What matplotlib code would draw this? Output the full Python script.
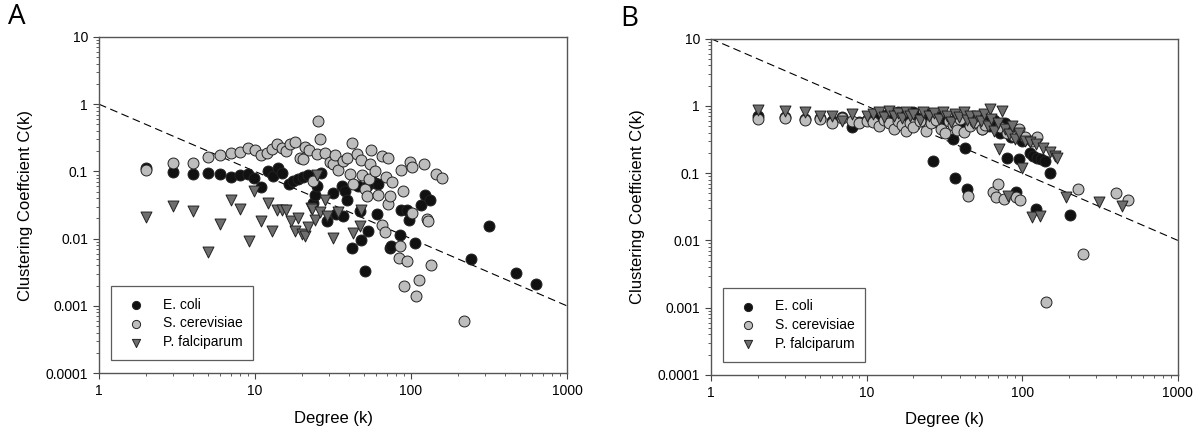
#! usr/bin/env python3

import matplotlib.pyplot as plt
from matplotlib.ticker import FixedLocator, LogLocator, NullFormatter

plt.rcParams['font.family'] = ['Liberation Sans', 'DejaVu Sans']

# ---- Panel A data (degree k, clustering C) ----
a_ecoli_k = [2, 3, 4, 5, 6, 7, 8, 9, 9.9, 11, 12.1, 13.1, 14.1, 15, 16.4, 17.6,
             18.9, 20.4, 21.9, 23.6, 24.2, 24.9, 26.6, 28.8, 31.7, 32.9, 35.9,
             36.7, 37.7, 38.6, 41.6, 45.8, 47, 48.1, 50.7, 51.9, 53.1, 55.6,
             58.8, 60.1, 61.6, 73.5, 74, 85.1, 86.6, 93.8, 97.5, 106.6, 116.7,
             122.6, 133, 241, 317, 471, 633]
a_ecoli_c = [0.113, 0.098, 0.093, 0.096, 0.093, 0.083, 0.087, 0.093, 0.081,
             0.059, 0.101, 0.085, 0.113, 0.096, 0.064, 0.072, 0.078, 0.083,
             0.087, 0.034, 0.044, 0.060, 0.096, 0.018, 0.048, 0.023, 0.060,
             0.022, 0.051, 0.038, 0.0073, 0.060, 0.026, 0.0097, 0.0033, 0.060,
             0.0128, 0.076, 0.068, 0.023, 0.064, 0.0073, 0.0077, 0.0115, 0.027,
             0.027, 0.019, 0.0086, 0.032, 0.045, 0.038, 0.0049, 0.0156, 0.0031,
             0.0021]

a_yeast_k = [2, 3, 4, 5, 6, 7, 8, 9, 10, 11, 11.9, 12.9, 13.9, 14.9, 15.9, 16.7,
             18, 19.4, 20.4, 20.9, 22.2, 23.6, 24.9, 25.5, 26.1, 28.1, 30.3,
             31.7, 32.6, 34.2, 36.5, 38.6, 40.6, 41.6, 42.7, 44.8, 47.7, 48.7,
             50.7, 51.9, 54.1, 54.6, 55.2, 58.8, 61.8, 64.9, 64.9, 68.2, 68.9,
             70.9, 71.3, 73.5, 76, 84.2, 85.1, 85.9, 89.2, 90.6, 94.4, 98.6, 101,
             101.7, 108, 112.8, 121, 126, 129, 134, 145, 157, 218]
a_yeast_c = [0.105, 0.132, 0.134, 0.166, 0.173, 0.186, 0.197, 0.223, 0.206,
             0.173, 0.19, 0.218, 0.253, 0.226, 0.201, 0.253, 0.27, 0.16, 0.151,
             0.233, 0.207, 0.072, 0.18, 0.56, 0.30, 0.186, 0.138, 0.127, 0.173,
             0.105, 0.142, 0.16, 0.093, 0.262, 0.064, 0.18, 0.146, 0.087, 0.054,
             0.043, 0.076, 0.127, 0.208, 0.101, 0.044, 0.169, 0.0157, 0.0124,
             0.083, 0.033, 0.16, 0.043, 0.069, 0.0052, 0.0079, 0.104, 0.051,
             0.0020, 0.0046, 0.138, 0.024, 0.117, 0.0014, 0.0024, 0.127, 0.0197,
             0.018, 0.0040, 0.093, 0.081, 0.0006]

a_plas_k = [2, 3, 4, 5, 6, 7, 8, 9.1, 9.9, 11, 12.1, 12.9, 13.9, 14.8, 15.9,
            16.9, 18, 18.9, 19.9, 20.9, 21.9, 22.9, 23.1, 24.2, 24.9, 26.1, 28.1,
            29, 31.7, 34.2, 42.7, 47.3, 48.1]
a_plas_c = [0.0208, 0.031, 0.026, 0.0063, 0.0166, 0.037, 0.028, 0.0093, 0.052,
            0.0185, 0.034, 0.0128, 0.0265, 0.027, 0.0265, 0.018, 0.0128, 0.0204,
            0.0119, 0.0108, 0.015, 0.029, 0.028, 0.0188, 0.088, 0.025, 0.038,
            0.022, 0.0104, 0.025, 0.0121, 0.0152, 0.027]

# ---- Panel B data ----
b_ecoli_k = [2, 3, 4, 5, 6, 7, 8, 9, 10, 11, 12, 13, 14, 15, 16, 17, 18, 19,
             20, 21, 22, 24, 26.8, 27, 29, 31, 33, 35.8, 37, 38, 40, 43, 44, 46,
             48, 52, 55, 58, 62, 66, 72, 78, 79.6, 85, 91.6, 94.8, 100, 112,
             118, 123, 125, 132, 140, 150, 204]
b_ecoli_c = [0.71, 0.68, 0.64, 0.66, 0.6, 0.68, 0.49, 0.57, 0.62, 0.7, 0.75,
             0.72, 0.78, 0.68, 0.8, 0.62, 0.73, 0.55, 0.82, 0.66, 0.6, 0.76,
             0.15, 0.7, 0.56, 0.74, 0.62, 0.32, 0.084, 0.68, 0.5, 0.24, 0.058,
             0.65, 0.55, 0.7, 0.45, 0.6, 0.5, 0.62, 0.4, 0.55, 0.17, 0.35,
             0.052, 0.16, 0.3, 0.2, 0.18, 0.029, 0.17, 0.16, 0.15, 0.1, 0.0235]

b_yeast_k = [2, 3, 4, 5, 6, 7, 8, 9, 10, 11, 12, 13, 14, 15, 16, 17, 18, 19,
             20, 22, 24, 26, 28, 30, 32, 34, 36, 38, 40, 42, 45, 46, 50, 55,
             58, 64.6, 68, 70, 72, 76, 80, 88, 91.6, 95, 97, 105, 115, 125, 142,
             230, 247, 400, 480]
b_yeast_c = [0.65, 0.67, 0.62, 0.64, 0.55, 0.67, 0.6, 0.55, 0.6, 0.58, 0.5,
             0.62, 0.55, 0.45, 0.6, 0.52, 0.43, 0.55, 0.48, 0.6, 0.42, 0.55,
             0.62, 0.46, 0.4, 0.6, 0.52, 0.44, 0.65, 0.41, 0.045, 0.5, 0.58,
             0.45, 0.52, 0.052, 0.044, 0.07, 0.48, 0.041, 0.4, 0.36, 0.044,
             0.45, 0.040, 0.35, 0.3, 0.35, 0.0012, 0.058, 0.0062, 0.05, 0.04]

b_plas_k = [2, 3, 4, 5, 6, 7, 8, 10, 11, 12, 13, 14, 15, 16, 17, 18, 19, 20,
            22, 23, 25, 27, 29, 31, 33, 35, 37, 39, 42, 44, 46, 48, 51, 54, 57,
            60, 62, 63, 66, 70, 71, 74, 78, 80.6, 82, 86, 90, 95, 99, 105, 112,
            115, 123, 130, 137, 150, 163, 168, 190, 313, 440]
b_plas_c = [0.86, 0.84, 0.82, 0.71, 0.71, 0.60, 0.77, 0.71, 0.75, 0.8, 0.68,
            0.85, 0.72, 0.78, 0.66, 0.8, 0.7, 0.75, 0.62, 0.82, 0.7, 0.78, 0.65,
            0.8, 0.72, 0.58, 0.75, 0.68, 0.8, 0.62, 0.72, 0.55, 0.7, 0.6, 0.75,
            0.5, 0.9, 0.65, 0.42, 0.55, 0.23, 0.85, 0.45, 0.045, 0.38, 0.5,
            0.32, 0.4, 0.12, 0.3, 0.29, 0.022, 0.27, 0.023, 0.24, 0.21, 0.18,
            0.17, 0.044, 0.037, 0.032]

# reference lines C ~ 1/k
line_k = [1, 1000]
line_a = [1, 0.001]
line_b = [10, 0.01]

species = ["E. coli", "S. cerevisiae", "P. falciparum"]
fills = ["#111111", "#bdbdbd", "#6e6e6e"]
shapes = ["o", "o", "v"]

fig = plt.figure(figsize=(12, 4.4), dpi=100)
ax_a = fig.add_axes([0.0825, 0.152, 0.39, 0.764])
ax_b = fig.add_axes([0.5925, 0.148, 0.389, 0.764])

panels = [
    (ax_a, [(a_ecoli_k, a_ecoli_c), (a_yeast_k, a_yeast_c), (a_plas_k, a_plas_c)],
     line_a, "Clustering Coeffcient C(k)", "A"),
    (ax_b, [(b_ecoli_k, b_ecoli_c), (b_yeast_k, b_yeast_c), (b_plas_k, b_plas_c)],
     line_b, "Clustering Coefficient C(k)", "B"),
]

for ax, series, fit, ylab, letter in panels:
    ax.plot(line_k, fit, color="black", lw=0.8, ls=(0, (7, 4)), zorder=1)
    for (k, c), name, fc, mk in zip(series, species, fills, shapes):
        ax.scatter(k, c, s=62, marker=mk, facecolor=fc, edgecolor="#222222",
                   linewidth=0.7, label=name, zorder=3)
    ax.set_xscale("log")
    ax.set_yscale("log")
    ax.set_xlim(1, 1000)
    ax.set_ylim(0.0001, 10)

    ax.xaxis.set_major_locator(FixedLocator([1, 10, 100, 1000]))
    ax.set_xticklabels(["1", "10", "100", "1000"])
    ax.yaxis.set_major_locator(FixedLocator([0.0001, 0.001, 0.01, 0.1, 1, 10]))
    ax.set_yticklabels(["0.0001", "0.001", "0.01", "0.1", "1", "10"])
    ax.xaxis.set_minor_locator(LogLocator(base=10, subs=range(2, 10)))
    ax.yaxis.set_minor_locator(LogLocator(base=10, subs=range(2, 10)))
    ax.xaxis.set_minor_formatter(NullFormatter())
    ax.yaxis.set_minor_formatter(NullFormatter())
    ax.tick_params(which="major", length=4, width=0.8, color="#444444",
                   labelsize=10, pad=4)
    ax.tick_params(which="minor", length=2.5, width=0.6, color="#444444")
    for sp in ax.spines.values():
        sp.set_color("#555555")
        sp.set_linewidth(1.0)

    ax.set_xlabel("Degree (k)", fontsize=12, labelpad=9)
    ax.set_ylabel(ylab, fontsize=12, labelpad=9)
    ax.text(-0.195, 1.06, letter, transform=ax.transAxes, fontsize=20,
            family=["Open Sans", "DejaVu Sans"], va="center", ha="left")

    leg = ax.legend(loc="lower left", bbox_to_anchor=(0.026, 0.038),
                    fontsize=10, markerscale=0.75, frameon=True, fancybox=False,
                    borderpad=0.8, handletextpad=0.9, labelspacing=0.35,
                    borderaxespad=0)
    leg.get_frame().set_edgecolor("#333333")
    leg.get_frame().set_linewidth(0.9)

plt.savefig("out.png", dpi=100)
